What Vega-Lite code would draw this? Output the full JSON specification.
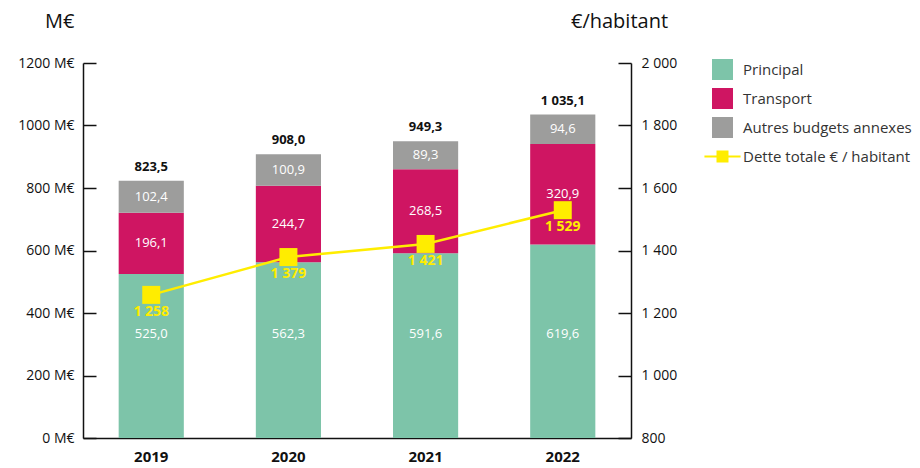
{
  "$schema": "https://vega.github.io/schema/vega-lite/v6.json",
  "width": 548,
  "height": 375,
  "autosize": {"type": "none"},
  "padding": {"left": 83, "top": 63, "right": 289, "bottom": 30},
  "config": {
    "font": "Open Sans",
    "view": {"stroke": null},
    "locale": {
      "number": {"decimal": ",", "thousands": " ", "grouping": [3], "currency": ["", " €"]},
      "time": {"dateTime": "%A %e %B %Y à %X", "date": "%d/%m/%Y", "time": "%H:%M:%S", "periods": ["AM", "PM"], "days": ["dimanche", "lundi", "mardi", "mercredi", "jeudi", "vendredi", "samedi"], "shortDays": ["dim.", "lun.", "mar.", "mer.", "jeu.", "ven.", "sam."], "months": ["janvier", "février", "mars", "avril", "mai", "juin", "juillet", "août", "septembre", "octobre", "novembre", "décembre"], "shortMonths": ["janv.", "févr.", "mars", "avr.", "mai", "juin", "juil.", "août", "sept.", "oct.", "nov.", "déc."]}
    }
  },
  "encoding": {
    "x": {
      "field": "year",
      "type": "nominal",
      "scale": {"paddingInner": 0.525, "paddingOuter": 0.26},
      "axis": {
        "title": null,
        "labelAngle": 0,
        "labelFontSize": 15,
        "labelFontWeight": "bold",
        "labelColor": "#111111",
        "labelPadding": 11,
        "ticks": false,
        "domainColor": "#111111",
        "domainWidth": 1.5
      }
    }
  },
  "layer": [
    {
      "layer": [
        {
          "data": {
            "values": [
              {"year": "2019", "series": "Principal", "k": 1, "value": 525.0},
              {"year": "2019", "series": "Transport", "k": 2, "value": 196.1},
              {"year": "2019", "series": "Autres budgets annexes", "k": 3, "value": 102.4},
              {"year": "2020", "series": "Principal", "k": 1, "value": 562.3},
              {"year": "2020", "series": "Transport", "k": 2, "value": 244.7},
              {"year": "2020", "series": "Autres budgets annexes", "k": 3, "value": 100.9},
              {"year": "2021", "series": "Principal", "k": 1, "value": 591.6},
              {"year": "2021", "series": "Transport", "k": 2, "value": 268.5},
              {"year": "2021", "series": "Autres budgets annexes", "k": 3, "value": 89.3},
              {"year": "2022", "series": "Principal", "k": 1, "value": 619.6},
              {"year": "2022", "series": "Transport", "k": 2, "value": 320.9},
              {"year": "2022", "series": "Autres budgets annexes", "k": 3, "value": 94.6}
            ]
          },
          "transform": [
            {"stack": "value", "groupby": ["year"], "sort": [{"field": "k", "order": "ascending"}], "as": ["v0", "v1"]},
            {"calculate": "(datum.v0 + datum.v1) / 2", "as": "mid"}
          ],
          "layer": [
            {
              "mark": {"type": "bar"},
              "encoding": {
                "y": {
                  "field": "v0",
                  "type": "quantitative",
                  "scale": {"domain": [0, 1200], "nice": false},
                  "axis": {
                    "title": "M€",
                    "titleAngle": 0,
                    "titleAlign": "right",
                    "titleBaseline": "alphabetic",
                    "titleX": -9,
                    "titleY": -36,
                    "titleFontSize": 20,
                    "titleFontWeight": "normal",
                    "titleColor": "#111111",
                    "values": [0, 200, 400, 600, 800, 1000, 1200],
                    "labelExpr": "datum.value + ' M€'",
                    "labelFontSize": 14,
                    "labelColor": "#111111",
                    "labelPadding": 22,
                    "grid": false,
                    "domainColor": "#111111",
                    "domainWidth": 1.5,
                    "tickColor": "#111111",
                    "tickWidth": 1.5,
                    "tickSize": -13
                  }
                },
                "y2": {"field": "v1"},
                "color": {
                  "field": "series",
                  "type": "nominal",
                  "scale": {
                    "domain": ["Principal", "Transport", "Autres budgets annexes", "Dette totale € / habitant"],
                    "range": ["#7dc4a9", "#cf1562", "#9d9d9c", "#ffed00"]
                  },
                  "legend": {
                    "title": null,
                    "orient": "none",
                    "legendX": 629,
                    "legendY": -4,
                    "symbolType": "square",
                    "symbolSize": 441,
                    "symbolStrokeWidth": 0,
                    "symbolOpacity": 1,
                    "rowPadding": 8,
                    "labelOffset": 10,
                    "labelFontSize": 15,
                    "labelColor": "#333333",
                    "labelLimit": 300,
                    "encode": {
                      "symbols": {
                        "update": {
                          "shape": {"signal": "datum.value === 'Dette totale € / habitant' ? 'M-1.72,-0.1H1.72V0.1H-1.72Z M-0.57,-0.57H0.57V0.57H-0.57Z' : 'square'"}
                        }
                      }
                    }
                  }
                }
              }
            },
            {
              "transform": [{"filter": "datum.series !== 'Principal'"}],
              "mark": {"type": "text", "color": "white", "fontSize": 13, "baseline": "middle"},
              "encoding": {
                "y": {"field": "mid", "type": "quantitative"},
                "text": {"field": "value", "type": "quantitative", "format": ".1f"}
              }
            },
            {
              "transform": [{"filter": "datum.series === 'Principal'"}],
              "mark": {"type": "text", "color": "white", "fontSize": 13, "baseline": "middle"},
              "encoding": {
                "y": {"datum": 333, "type": "quantitative"},
                "text": {"field": "value", "type": "quantitative", "format": ".1f"}
              }
            }
          ]
        },
        {
          "data": {
            "values": [
              {"year": "2019", "total": 823.5},
              {"year": "2020", "total": 908.0},
              {"year": "2021", "total": 949.3},
              {"year": "2022", "total": 1035.1}
            ]
          },
          "mark": {"type": "text", "fontSize": 13, "fontWeight": "bold", "color": "#111111", "baseline": "middle", "dy": -14},
          "encoding": {
            "y": {"field": "total", "type": "quantitative"},
            "text": {"field": "total", "type": "quantitative", "format": ",.1f"}
          }
        }
      ]
    },
    {
      "data": {
        "values": [
          {"year": "2019", "dette": 1258},
          {"year": "2020", "dette": 1379},
          {"year": "2021", "dette": 1421},
          {"year": "2022", "dette": 1529}
        ]
      },
      "encoding": {
        "y": {
          "field": "dette",
          "type": "quantitative",
          "scale": {"domain": [800, 2000], "nice": false},
          "axis": {
            "orient": "right",
            "title": "€/habitant",
            "titleAngle": 0,
            "titleAlign": "center",
            "titleBaseline": "alphabetic",
            "titleX": -12,
            "titleY": -36,
            "titleFontSize": 20,
            "titleFontWeight": "normal",
            "titleColor": "#111111",
            "values": [800, 1000, 1200, 1400, 1600, 1800, 2000],
            "format": ",d",
            "labelFontSize": 14,
            "labelColor": "#111111",
            "labelPadding": 23,
            "grid": false,
            "domainColor": "#111111",
            "domainWidth": 1.5,
            "tickColor": "#111111",
            "tickWidth": 1.5,
            "tickSize": -13
          }
        }
      },
      "layer": [
        {"mark": {"type": "line", "color": "#ffed00", "strokeWidth": 2.5}},
        {"mark": {"type": "point", "shape": "square", "filled": true, "size": 324, "color": "#ffed00", "opacity": 1}},
        {
          "mark": {"type": "text", "fontSize": 14, "fontWeight": "bold", "color": "#ffed00", "baseline": "middle", "dy": 17},
          "encoding": {"text": {"field": "dette", "type": "quantitative", "format": ",d"}}
        }
      ]
    }
  ],
  "resolve": {"scale": {"y": "independent"}}
}
